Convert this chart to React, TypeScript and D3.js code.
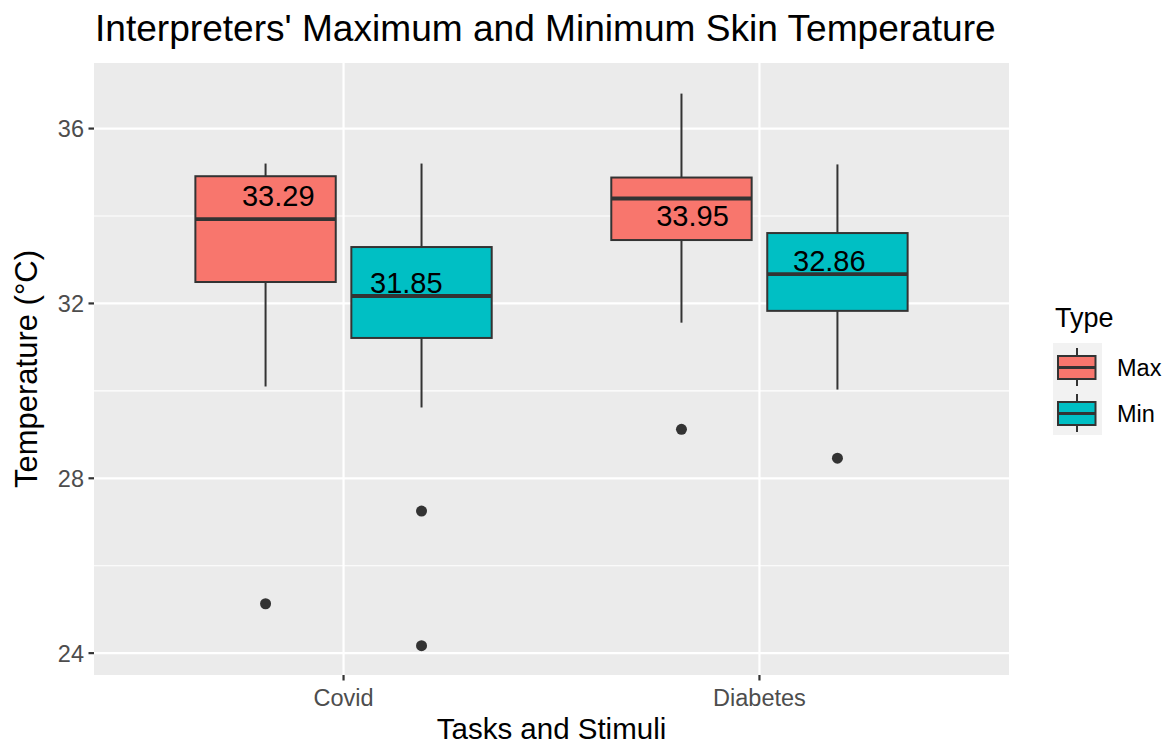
import React from "react";
import * as d3 from "d3";

const categories = ["Covid", "Diabetes"];
const types = ["Max", "Min"];
const typeColors = ["#F8766D", "#00BFC4"];

// Box statistics per type, indexed by category
const maxWhiskerLow = [30.1, 31.56];
const maxQ1 = [32.49, 33.45];
const maxMedian = [33.93, 34.4];
const maxQ3 = [34.91, 34.88];
const maxWhiskerHigh = [35.2, 36.8];
const maxOutliers = [[25.13], [29.12]];

const minWhiskerLow = [29.62, 30.03];
const minQ1 = [31.21, 31.83];
const minMedian = [32.17, 32.67];
const minQ3 = [33.29, 33.61];
const minWhiskerHigh = [35.2, 35.18];
const minOutliers = [[27.25, 24.17], [28.46]];

// Mean labels and where they were placed (value axis / offset from category centre)
const maxMeanLabels = ["33.29", "33.95"];
const minMeanLabels = ["31.85", "32.86"];
const maxLabelY = [34.47, 34.0];
const minLabelY = [32.47, 32.99];
const maxLabelDx = [-0.157, -0.161];
const minLabelDx = [0.151, 0.168];

const yTicks = [24, 28, 32, 36];
const yMinor = [26, 30, 34];

const W = 1171;
const H = 744;
const P = { left: 94, right: 1009, top: 63, bottom: 675 };
const FONT = "'Liberation Sans', Arial, Helvetica, sans-serif";

export default function App() {
  const x = d3.scaleLinear().domain([0.4, 2.6]).range([P.left, P.right]);
  const y = d3.scaleLinear().domain([23.5, 37.5]).range([P.bottom, P.top]);

  const series = [
    { lo: maxWhiskerLow, q1: maxQ1, med: maxMedian, q3: maxQ3, hi: maxWhiskerHigh, out: maxOutliers, lab: maxMeanLabels, ly: maxLabelY, ldx: maxLabelDx, off: -0.1875 },
    { lo: minWhiskerLow, q1: minQ1, med: minMedian, q3: minQ3, hi: minWhiskerHigh, out: minOutliers, lab: minMeanLabels, ly: minLabelY, ldx: minLabelDx, off: 0.1875 },
  ];
  const halfW = 0.16875;
  const stroke = "#333333";

  const boxes: any[] = [];
  const labels: any[] = [];
  series.forEach((s, si) => {
    categories.forEach((c, ci) => {
      const cx = ci + 1 + s.off;
      const x0 = x(cx - halfW);
      const x1 = x(cx + halfW);
      const xc = x(cx);
      boxes.push(
        <g key={`b${si}${ci}`}>
          <line x1={xc} x2={xc} y1={y(s.hi[ci])} y2={y(s.q3[ci])} stroke={stroke} strokeWidth={2} />
          <line x1={xc} x2={xc} y1={y(s.q1[ci])} y2={y(s.lo[ci])} stroke={stroke} strokeWidth={2} />
          <rect x={x0} y={y(s.q3[ci])} width={x1 - x0} height={y(s.q1[ci]) - y(s.q3[ci])} fill={typeColors[si]} stroke={stroke} strokeWidth={2} />
          <line x1={x0} x2={x1} y1={y(s.med[ci])} y2={y(s.med[ci])} stroke={stroke} strokeWidth={3.8} />
          {s.out[ci].map((o, oi) => (
            <circle key={oi} cx={xc} cy={y(o)} r={5.5} fill={stroke} />
          ))}
        </g>
      );
      labels.push(
        <text key={`l${si}${ci}`} x={x(ci + 1 + s.ldx[ci])} y={y(s.ly[ci])} dy="0.36em" textAnchor="middle" fontSize={29} fontFamily={FONT} fill="#000">
          {s.lab[ci]}
        </text>
      );
    });
  });

  return (
    <svg width={W} height={H} style={{ position: "absolute", left: 0, top: 0, background: "#fff" }}>
      <rect x={0} y={0} width={W} height={H} fill="#fff" />
      <text x={P.left + 1} y={41} fontSize={37.1} fontFamily={FONT} fill="#000">
        Interpreters' Maximum and Minimum Skin Temperature
      </text>
      <rect x={P.left} y={P.top} width={P.right - P.left} height={P.bottom - P.top} fill="#EBEBEB" />
      {yMinor.map((t) => (
        <line key={`m${t}`} x1={P.left} x2={P.right} y1={y(t)} y2={y(t)} stroke="#fff" strokeWidth={1.1} />
      ))}
      {yTicks.map((t) => (
        <line key={`g${t}`} x1={P.left} x2={P.right} y1={y(t)} y2={y(t)} stroke="#fff" strokeWidth={2.2} />
      ))}
      {categories.map((c, i) => (
        <line key={`v${c}`} x1={x(i + 1)} x2={x(i + 1)} y1={P.top} y2={P.bottom} stroke="#fff" strokeWidth={2.2} />
      ))}
      {boxes}
      {labels}
      {yTicks.map((t) => (
        <g key={`yt${t}`}>
          <line x1={P.left - 5.5} x2={P.left} y1={y(t)} y2={y(t)} stroke="#333" strokeWidth={2.2} />
          <text x={P.left - 10} y={y(t)} dy="0.36em" textAnchor="end" fontSize={23.5} fontFamily={FONT} fill="#4D4D4D">
            {t}
          </text>
        </g>
      ))}
      {categories.map((c, i) => (
        <g key={`xt${c}`}>
          <line x1={x(i + 1)} x2={x(i + 1)} y1={P.bottom} y2={P.bottom + 5.5} stroke="#333" strokeWidth={2.2} />
          <text x={x(i + 1)} y={P.bottom + 31} textAnchor="middle" fontSize={23.5} fontFamily={FONT} fill="#4D4D4D">
            {c}
          </text>
        </g>
      ))}
      <text x={(P.left + P.right) / 2} y={739} textAnchor="middle" fontSize={29.5} fontFamily={FONT} fill="#000">
        Tasks and Stimuli
      </text>
      <text transform={`translate(37,${(P.top + P.bottom) / 2}) rotate(-90)`} textAnchor="middle" fontSize={31} fontFamily={FONT} fill="#000">
        Temperature (°C)
      </text>
      <text x={1055} y={327} fontSize={27} fontFamily={FONT} fill="#000">
        Type
      </text>
      {types.map((t, i) => {
        const ky = 343 + i * 46;
        return (
          <g key={`k${t}`}>
            <rect x={1053} y={ky} width={49} height={46} fill="#F2F2F2" />
            <line x1={1077} x2={1077} y1={ky + 5} y2={ky + 43} stroke={stroke} strokeWidth={2} />
            <rect x={1058} y={ky + 13} width={37.5} height={23} fill={typeColors[i]} stroke={stroke} strokeWidth={2} />
            <line x1={1058} x2={1095.5} y1={ky + 24.5} y2={ky + 24.5} stroke={stroke} strokeWidth={3} />
            <text x={1117} y={ky + 25} dy="0.36em" fontSize={23.5} fontFamily={FONT} fill="#000">
              {t}
            </text>
          </g>
        );
      })}
    </svg>
  );
}
